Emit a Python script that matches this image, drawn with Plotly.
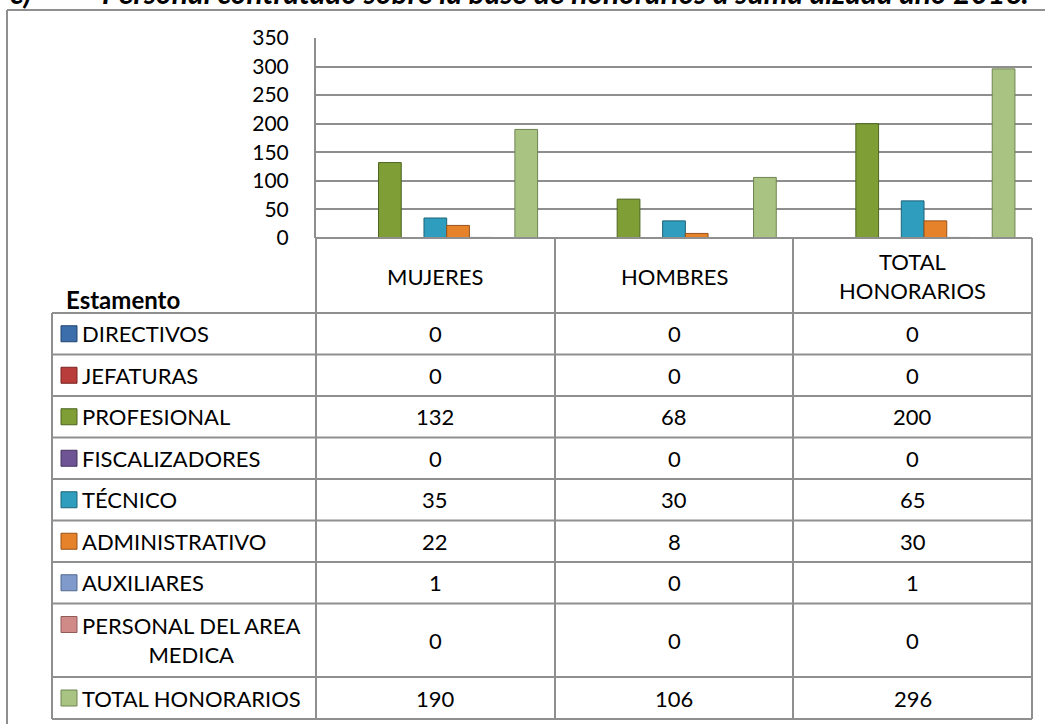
import plotly.graph_objects as go

# ---------------- data ----------------
categories = ["MUJERES", "HOMBRES", "TOTAL HONORARIOS"]
category_labels = ["MUJERES", "HOMBRES", "TOTAL<br>HONORARIOS"]

series_names = ["DIRECTIVOS", "JEFATURAS", "PROFESIONAL", "FISCALIZADORES",
                "TÉCNICO", "ADMINISTRATIVO", "AUXILIARES",
                "PERSONAL DEL AREA MEDICA", "TOTAL HONORARIOS"]
series_labels = ["DIRECTIVOS", "JEFATURAS", "PROFESIONAL", "FISCALIZADORES",
                 "TÉCNICO", "ADMINISTRATIVO", "AUXILIARES",
                 "PERSONAL DEL AREA<br>MEDICA", "TOTAL HONORARIOS"]

directivos = [0, 0, 0]
jefaturas = [0, 0, 0]
profesional = [132, 68, 200]
fiscalizadores = [0, 0, 0]
tecnico = [35, 30, 65]
administrativo = [22, 8, 30]
auxiliares = [1, 0, 1]
personal_medica = [0, 0, 0]
total_honorarios = [190, 106, 296]

y_ticks = [0, 50, 100, 150, 200, 250, 300, 350]

title_prefix = "c)"
title_text = "Personal contratado sobre la base de honorarios a suma alzada año 2016."
table_header = "Estamento"

# ---------------- style ----------------
series_values = [directivos, jefaturas, profesional, fiscalizadores, tecnico,
                 administrativo, auxiliares, personal_medica, total_honorarios]
fill_colors = ["#3b6eab", "#b93d3a", "#7f9e35", "#6e5495", "#2f9dbd",
               "#e5822a", "#7f9acb", "#d08a88", "#a9c482"]
edge_colors = ["#23456f", "#7a2422", "#4d6420", "#45345e", "#1d6478",
               "#98531a", "#536b8f", "#8f5c5a", "#6f8452"]
grid_col = "#8e8e8e"
line_col = "#8f8f8f"
FONT = "Lato"

W, H = 1045, 724
PL, PR, PT, PB = 316, 1032, 38, 238  # plot-area pixel box


def px(x):
    return (x - PL) / (PR - PL)


def py(y):
    return (PB - y) / (PB - PT)


fig = go.Figure()
for name, vals, fc, ec in zip(series_names, series_values, fill_colors, edge_colors):
    fig.add_trace(go.Bar(
        x=categories, y=vals, name=name,
        marker=dict(color=fc, line=dict(color=ec, width=1)),
        showlegend=False, hoverinfo="x+y+name",
    ))

shapes = []


def hline(y, x0, x1, color=line_col, w=2):
    shapes.append(dict(type="line", xref="paper", yref="paper",
                       x0=px(x0), x1=px(x1), y0=py(y), y1=py(y),
                       line=dict(color=color, width=w)))


def vline(x, y0, y1, color=line_col, w=2):
    shapes.append(dict(type="line", xref="paper", yref="paper",
                       x0=px(x), x1=px(x), y0=py(y0), y1=py(y1),
                       line=dict(color=color, width=w)))


# outer frame
hline(10, 7, W + 5)
vline(7, 10, H + 5)

# table geometry
TL = 52                       # table left edge (label column)
row_top = 313
row_heights = [41.5] * 7 + [73.5, 42]
rows = [row_top]
for h in row_heights:
    rows.append(rows[-1] + h)
table_bottom = rows[-1]
col_edges = [PL, 555, 793, PR]

# header
hline(PB, PL, PR)
for xe in col_edges:
    vline(xe, PB, table_bottom)
vline(TL, row_top, table_bottom)
for r in rows:
    hline(r, TL, PR)

annotations = []

# title (cut at page top, as in the source page)
annotations.append(dict(xref="paper", yref="paper", x=px(8), y=py(-8),
                        xanchor="left", yanchor="middle", showarrow=False,
                        text="<b><i>" + title_prefix + "</i></b>",
                        font=dict(family=FONT, size=30, color="#000")))
annotations.append(dict(xref="paper", yref="paper", x=px(100), y=py(-8),
                        xanchor="left", yanchor="middle", showarrow=False,
                        text="<b><i>" + title_text + "</i></b>",
                        font=dict(family=FONT, size=30, color="#000")))

# header labels
for cat, lab in zip(categories, category_labels):
    annotations.append(dict(xref="x", yref="paper", x=cat, y=py(276),
                            xanchor="center", yanchor="middle", showarrow=False,
                            text=lab, align="center",
                            font=dict(family=FONT, size=22, color="#000")))
annotations.append(dict(xref="paper", yref="paper", x=px(64), y=py(299),
                        xanchor="left", yanchor="middle", showarrow=False,
                        text="<b>" + table_header + "</b>",
                        font=dict(family=FONT, size=24, color="#000")))

# rows
for i, (lab, vals, fc, ec) in enumerate(zip(series_labels, series_values,
                                             fill_colors, edge_colors)):
    y0, y1 = rows[i], rows[i + 1]
    yc = (y0 + y1) / 2
    two_line = "<br>" in lab
    key_y = y0 + 21 if two_line else yc
    shapes.append(dict(type="rect", xref="paper", yref="paper",
                       x0=px(61), x1=px(77), y0=py(key_y - 8), y1=py(key_y + 8),
                       fillcolor=fc, line=dict(color=ec, width=1)))
    annotations.append(dict(xref="paper", yref="paper", x=px(80), y=py(yc),
                            xanchor="left", yanchor="middle", showarrow=False,
                            text=lab, align="center",
                            font=dict(family=FONT, size=22, color="#000")))
    for cat, v in zip(categories, vals):
        annotations.append(dict(xref="x", yref="paper", x=cat, y=py(yc),
                                xanchor="center", yanchor="middle", showarrow=False,
                                text=str(v),
                                font=dict(family=FONT, size=22, color="#000")))

fig.update_layout(
    width=W, height=H,
    margin=dict(l=PL, r=W - PR, t=PT, b=H - PB, pad=0),
    paper_bgcolor="white", plot_bgcolor="white",
    barmode="group", bargap=0.143, bargroupgap=0,
    font=dict(family=FONT, size=21, color="#000"),
    shapes=shapes, annotations=annotations,
    xaxis=dict(showticklabels=False, showgrid=False, zeroline=False,
               showline=False, ticks=""),
    yaxis=dict(range=[0, 350], tickvals=y_ticks, ticks="",
               showgrid=True, gridcolor=grid_col, gridwidth=2,
               zeroline=False, showline=True, linecolor=grid_col, linewidth=2,
               ticklabelstandoff=21,
               tickfont=dict(family=FONT, size=21, color="#000")),
)

fig.write_html("out.html", config={"displayModeBar": False},
               post_script="document.body.style.margin='0';document.body.style.overflow='hidden';")
